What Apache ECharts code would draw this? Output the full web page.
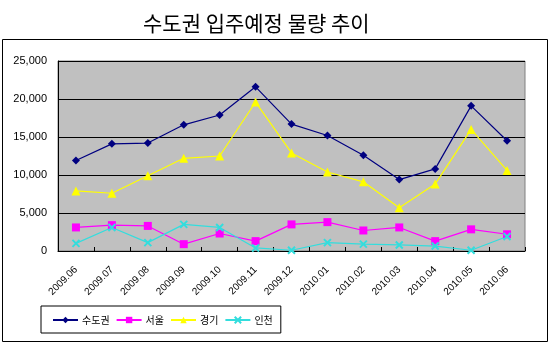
<!DOCTYPE html>
<html><head><meta charset="utf-8">
<script src="https://cdn.jsdelivr.net/npm/echarts@6/dist/echarts.min.js"></script>
<style>html,body{margin:0;padding:0;background:#fff}#c{width:550px;height:344px}</style>
</head><body><div id="c"></div>
<script>
const categories = ['2009.06','2009.07','2009.08','2009.09','2009.10','2009.11','2009.12','2010.01','2010.02','2010.03','2010.04','2010.05','2010.06'];
const capital = [11900,14100,14200,16600,17900,21600,16700,15200,12600,9400,10800,19100,14500];
const seoul = [3100,3400,3300,900,2300,1300,3500,3800,2700,3100,1300,2850,2200];
const gyeonggi = [7900,7600,9900,12200,12500,19600,12900,10400,9100,5700,8800,16000,10600];
const incheon = [1000,3100,1100,3500,3100,400,100,1100,900,800,650,100,1900];
const seriesNames = ['수도권','서울','경기','인천'];
const yTicks = {min:0, max:25000, interval:5000};

const chart = echarts.init(document.getElementById('c'), null, {renderer:'canvas'});
const font = 'Arial, "Liberation Sans", "Noto Sans CJK KR", sans-serif';
function mk(name, data, color, symbol, size, extra){
  return Object.assign({
    name, type:'line', data, symbol, symbolSize:size,
    lineStyle:{color, width:1.2},
    itemStyle:{color},
    animation:false
  }, extra||{});
}
chart.setOption({
  animation:false,
  title:{text:'수도권 입주예정 물량 추이', left:138, top:8,
    textStyle:{fontFamily:'"Noto Sans CJK KR", sans-serif', fontSize:21, fontWeight:'normal', color:'#000'}},
  graphic:[{type:'rect', shape:{x:2.5,y:39.5,width:545,height:302}, style:{fill:null, stroke:'#000', lineWidth:1}, z:-1}],
  grid:{left:58, right:25, top:61, bottom:93, show:true, backgroundColor:'#c0c0c0', borderColor:'#808080', borderWidth:1},
  legend:{left:41, top:306, orient:'horizontal', itemGap:6, itemWidth:25, itemHeight:8,
    padding:[9,8,8,11], borderColor:'#000', borderWidth:1, backgroundColor:'#fff',
    textStyle:{fontFamily:'"Noto Sans CJK KR", sans-serif', fontSize:10, color:'#000', padding:[0,0,0,-1]},
    data:seriesNames},
  xAxis:{type:'category', data:categories, boundaryGap:true,
    axisLine:{lineStyle:{color:'#000', width:1}},
    axisTick:{show:true, inside:true, length:4, lineStyle:{color:'#000'}},
    axisLabel:{rotate:45, fontSize:10, color:'#000', fontFamily:font, margin:17, interval:0}},
  yAxis:{type:'value', min:yTicks.min, max:yTicks.max, interval:yTicks.interval,
    axisLine:{show:true, lineStyle:{color:'#000'}},
    axisTick:{show:false},
    splitLine:{lineStyle:{color:'#000', width:1}},
    axisLabel:{fontSize:11, color:'#000', fontFamily:font, margin:11,
      formatter:v=>v.toLocaleString('en-US')}},
  series:[
    mk(seriesNames[0], capital, '#000080', 'diamond', 8),
    mk(seriesNames[1], seoul, '#ff00ff', 'rect', 8),
    mk(seriesNames[2], gyeonggi, '#ffff00', 'triangle', 9),
    mk(seriesNames[3], incheon, '#33dddd', 'path://M0,0L10,10M10,0L0,10', 7,
      {itemStyle:{color:'#33dddd', borderColor:'#33dddd', borderWidth:2}})
  ]
});
</script></body></html>
